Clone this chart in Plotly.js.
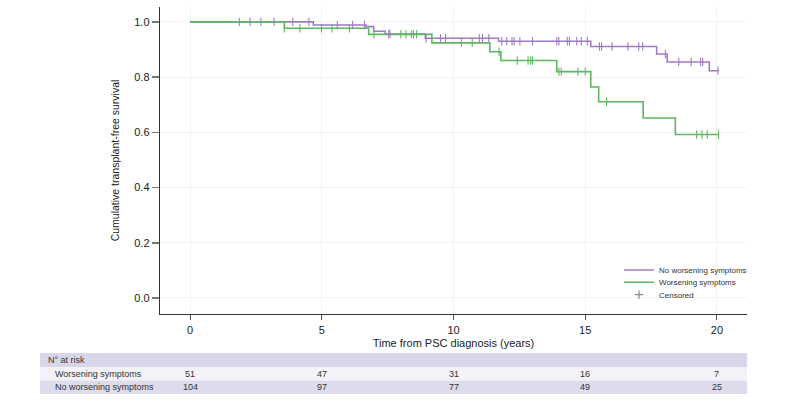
<!DOCTYPE html>
<html><head><meta charset="utf-8">
<script src="https://cdn.plot.ly/plotly-3.0.1.min.js"></script>
<style>html,body{margin:0;padding:0;background:#fff}#chart{width:787px;height:402px}</style>
</head><body><div id="chart"></div>
<script>
// ---- Data ----
// Step curves: event times and survival after each event; start at t=0, S=1, end at last follow-up
const noWorsTimes = [0, 4.68, 6.68, 6.97, 7.41, 8.93, 11.71, 15.21, 17.71, 18.11, 19.71, 20.07];
const noWorsSurv  = [1, 0.989, 0.983, 0.966, 0.956, 0.941, 0.930, 0.911, 0.884, 0.855, 0.823, 0.823];
const worsTimes   = [0, 3.58, 6.78, 9.18, 11.38, 11.80, 13.92, 15.21, 15.51, 17.20, 18.42, 20.07];
const worsSurv    = [1, 0.977, 0.955, 0.924, 0.892, 0.860, 0.820, 0.764, 0.711, 0.652, 0.592, 0.592];
// Censoring times
const noWorsCens = [1.87, 2.28, 2.69, 3.19, 3.90, 4.51, 5.59, 6.17, 6.62, 7.54, 7.59, 8.96, 9.51, 9.70,
  10.98, 11.10, 11.34, 11.83, 12.02, 12.22, 12.30, 12.52, 13.00, 13.92, 14.00, 14.32, 14.40, 14.68, 14.85,
  15.08, 15.54, 15.62, 16.02, 16.62, 17.03, 17.18, 18.04, 18.55, 19.02, 19.38, 19.46, 20.04];
const worsCens = [3.58, 4.17, 4.99, 5.39, 6.05, 6.98, 8.00, 8.20, 8.40, 8.48, 8.60, 10.30, 10.71, 11.73,
  12.42, 12.83, 12.93, 13.00, 14.00, 14.09, 14.72, 15.00, 15.81, 19.23, 19.43, 19.63, 20.06];
// Number at risk table
const riskTimes = [0, 5, 10, 15, 20];
const riskWors = [51, 47, 31, 16, 7];
const riskNoWors = [104, 97, 77, 49, 25];
const groupNames = ["No worsening symptoms", "Worsening symptoms"];

// ---- helpers ----
function survAt(times, surv, t) {
  let s = surv[0];
  for (let i = 0; i < times.length; i++) { if (times[i] <= t) s = surv[i]; }
  return s;
}
const PURPLE = '#a07ac4', GREEN = '#5cb85f';
const FONT = 'Arial, "Liberation Sans", Helvetica, sans-serif';

const traces = [
  {x: noWorsTimes, y: noWorsSurv, type: 'scatter', mode: 'lines', line: {shape: 'hv', color: PURPLE, width: 1.6},
   name: groupNames[0], legend: 'legend', hoverinfo: 'skip'},
  {x: worsTimes, y: worsSurv, type: 'scatter', mode: 'lines', line: {shape: 'hv', color: GREEN, width: 1.6},
   name: groupNames[1], legend: 'legend2', hoverinfo: 'skip'},
  {x: noWorsCens, y: noWorsCens.map(t => survAt(noWorsTimes, noWorsSurv, t)), type: 'scatter', mode: 'markers',
   marker: {symbol: 'line-ns-open', size: 6, color: PURPLE, line: {color: PURPLE, width: 1.1}}, showlegend: false},
  {x: worsCens, y: worsCens.map(t => survAt(worsTimes, worsSurv, t)), type: 'scatter', mode: 'markers',
   marker: {symbol: 'line-ns-open', size: 6, color: GREEN, line: {color: GREEN, width: 1.1}}, showlegend: false},
  {x: [null], y: [null], type: 'scatter', mode: 'markers', name: 'Censored', legend: 'legend3',
   marker: {symbol: 'cross-thin-open', size: 6, color: '#777', line: {color: '#777', width: 1}}}
];

// Risk table layout (paper coordinates relative to plot area 160..747 x 7..314 px)
const PL = 160, PW = 587, PT = 7, PH = 307;
const px = X => (X - PL) / PW;
const py = Y => (PT + PH - Y) / PH;

const shapes = [
  {type: 'rect', xref: 'paper', yref: 'paper', x0: px(40), x1: px(747), y0: py(367), y1: py(353), fillcolor: '#d9d6e9', line: {width: 0}, layer: 'below'},
  {type: 'rect', xref: 'paper', yref: 'paper', x0: px(40), x1: px(747), y0: py(380.5), y1: py(367), fillcolor: '#f3f2f8', line: {width: 0}, layer: 'below'},
  {type: 'rect', xref: 'paper', yref: 'paper', x0: px(40), x1: px(747), y0: py(394), y1: py(380.5), fillcolor: '#dedcec', line: {width: 0}, layer: 'below'}
];
const tfont = {family: FONT, size: 9, color: '#333'};
const annotations = [
  {xref: 'paper', yref: 'paper', x: px(46), y: py(360), xanchor: 'left', yanchor: 'middle', text: 'N° at risk', showarrow: false, font: tfont},
  {xref: 'paper', yref: 'paper', x: px(53), y: py(373.7), xanchor: 'left', yanchor: 'middle', text: groupNames[1], showarrow: false, font: tfont},
  {xref: 'paper', yref: 'paper', x: px(53), y: py(387.2), xanchor: 'left', yanchor: 'middle', text: groupNames[0], showarrow: false, font: tfont}
];
riskTimes.forEach((t, i) => {
  annotations.push({xref: 'x', yref: 'paper', x: t, y: py(373.7), xanchor: 'center', yanchor: 'middle', text: String(riskWors[i]), showarrow: false, font: tfont});
  annotations.push({xref: 'x', yref: 'paper', x: t, y: py(387.2), xanchor: 'center', yanchor: 'middle', text: String(riskNoWors[i]), showarrow: false, font: tfont});
});

const legFont = {family: FONT, size: 8, color: '#333'};
const legBase = {xanchor: 'left', yanchor: 'middle', bgcolor: 'rgba(0,0,0,0)', borderwidth: 0, font: legFont, itemwidth: 30};

const layout = {
  width: 787, height: 402,
  margin: {l: PL, r: 787 - PL - PW, t: PT, b: 402 - PT - PH, pad: 0},
  paper_bgcolor: '#fff', plot_bgcolor: '#fff',
  font: {family: FONT, color: '#222'},
  showlegend: true,
  legend: Object.assign({}, legBase, {x: px(619), y: py(270)}),
  legend2: Object.assign({}, legBase, {x: px(619), y: py(282.3)}),
  legend3: Object.assign({}, legBase, {x: px(619), y: py(294.7)}),
  xaxis: {
    range: [-1.14, 21.14], tickvals: riskTimes, ticktext: riskTimes.map(String),
    showline: true, linecolor: '#333', linewidth: 1.3, mirror: false,
    ticks: 'outside', ticklen: 5, tickcolor: '#555', tickwidth: 1,
    showgrid: true, gridcolor: '#f2f2f2', gridwidth: 1, zeroline: false,
    tickfont: {family: FONT, size: 11, color: '#222'},
    title: {text: 'Time from PSC diagnosis (years)', font: {family: FONT, size: 11, color: '#222'}, standoff: 4},
    automargin: false, fixedrange: true
  },
  yaxis: {
    range: [-0.058, 1.054], tickvals: [0, 0.2, 0.4, 0.6, 0.8, 1.0], ticktext: ['0.0', '0.2', '0.4', '0.6', '0.8', '1.0'],
    showline: true, linecolor: '#333', linewidth: 1.3,
    ticks: 'outside', ticklen: 7, tickcolor: '#777', tickwidth: 1.5,
    showgrid: true, gridcolor: '#f2f2f2', gridwidth: 1, zeroline: false,
    tickfont: {family: FONT, size: 11, color: '#222'},
    title: {text: 'Cumulative transplant-free survival', font: {family: FONT, size: 10.5, color: '#222'}, standoff: 12},
    automargin: false, fixedrange: true
  },
  shapes: shapes,
  annotations: annotations
};

Plotly.newPlot('chart', traces, layout, {displayModeBar: false, staticPlot: true});
</script>
</body></html>
